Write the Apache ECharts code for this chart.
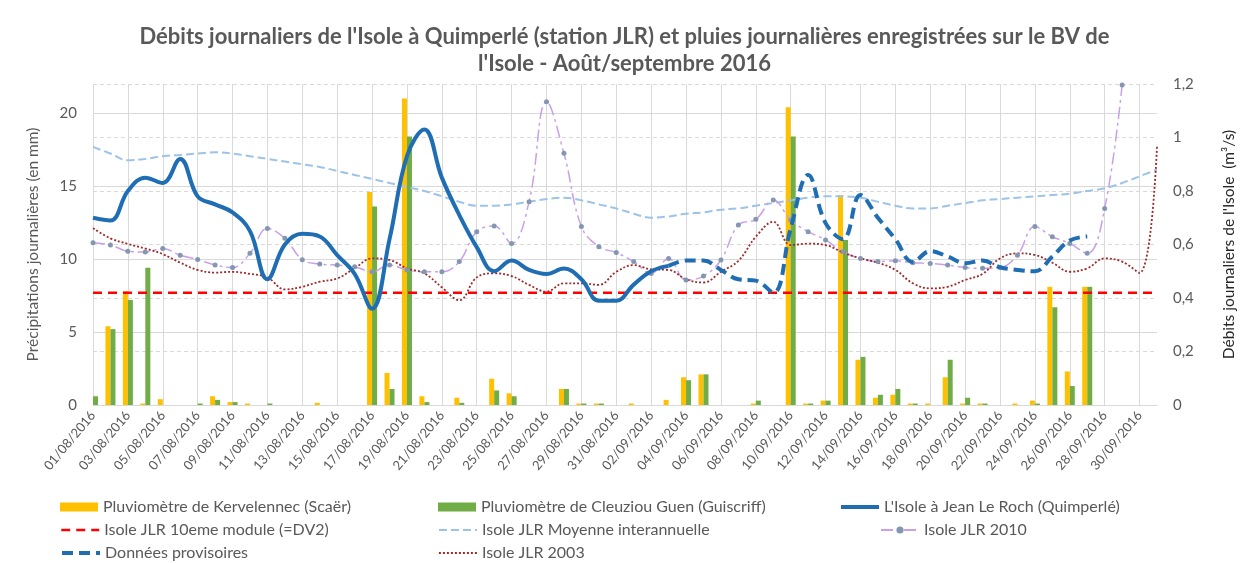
<!DOCTYPE html>
<html>
<head>
<meta charset="utf-8">
<script src="https://cdn.jsdelivr.net/npm/echarts@6/dist/echarts.min.js"></script>
<style>
html,body{margin:0;padding:0;background:#fff;}
#chart{width:1249px;height:563px;}
</style>
</head>
<body>
<div id="chart"></div>
<script>
var categories = ["01/08/2016","02/08/2016","03/08/2016","04/08/2016","05/08/2016","06/08/2016","07/08/2016","08/08/2016","09/08/2016","10/08/2016",
"11/08/2016","12/08/2016","13/08/2016","14/08/2016","15/08/2016","16/08/2016","17/08/2016","18/08/2016","19/08/2016","20/08/2016",
"21/08/2016","22/08/2016","23/08/2016","24/08/2016","25/08/2016","26/08/2016","27/08/2016","28/08/2016","29/08/2016","30/08/2016",
"31/08/2016","01/09/2016","02/09/2016","03/09/2016","04/09/2016","05/09/2016","06/09/2016","07/09/2016","08/09/2016","09/09/2016",
"10/09/2016","11/09/2016","12/09/2016","13/09/2016","14/09/2016","15/09/2016","16/09/2016","17/09/2016","18/09/2016","19/09/2016",
"20/09/2016","21/09/2016","22/09/2016","23/09/2016","24/09/2016","25/09/2016","26/09/2016","27/09/2016","28/09/2016","29/09/2016",
"30/09/2016","01/10/2016"];

var pluvioKervelennec = [0,5.4,7.8,0.1,0.4,0,0,0.6,0.2,0.1,
0,0,0,0.15,0,0,14.6,2.2,21.0,0.6,
0,0.5,0,1.8,0.8,0,0,1.1,0.1,0.1,
0,0.1,0,0.35,1.9,2.1,0,0,0.1,0,
20.4,0.1,0.3,14.4,3.1,0.5,0.7,0.1,0.1,1.9,
0.1,0.1,0,0.1,0.3,8.1,2.3,8.1,0,0,
0,0];

var pluvioCleuziou = [0.6,5.2,7.2,9.4,0,0,0.1,0.35,0.2,0,
0.1,0,0,0,0,0,13.6,1.1,18.4,0.2,
0,0.15,0,1.0,0.6,0,0,1.1,0.1,0.1,
0,0,0,0,1.7,2.1,0,0,0.3,0,
18.4,0.1,0.3,11.3,3.3,0.7,1.1,0.1,0,3.1,
0.5,0.1,0,0,0.1,6.7,1.3,8.1,0,0,
0,0];

var debitIsole = [0.70,0.69,0.80,0.85,0.83,0.92,0.78,0.75,0.72,0.65,
0.47,0.60,0.64,0.63,0.56,0.49,0.36,0.62,0.93,1.03,
0.85,0.71,0.59,0.50,0.54,0.505,0.49,0.51,0.47,0.39,
0.39,0.45,0.50,0.52,null,null,null,null,null,null,
null,null,null,null,null,null,null,null,null,null,
null,null,null,null,null,null,null,null,null,null,
null,null];

var donneesProvisoires = [null,null,null,null,null,null,null,null,null,null,
null,null,null,null,null,null,null,null,null,null,
null,null,null,null,null,null,null,null,null,null,
null,null,null,0.52,0.54,0.54,0.505,0.47,0.465,0.42,
0.66,0.86,0.68,0.62,0.785,0.70,0.62,0.535,0.575,0.555,
0.53,0.54,0.515,0.505,0.50,0.555,0.615,0.63,null,null,
null,null];

var module10 = [0.42,0.42,0.42,0.42,0.42,0.42,0.42,0.42,0.42,0.42,
0.42,0.42,0.42,0.42,0.42,0.42,0.42,0.42,0.42,0.42,
0.42,0.42,0.42,0.42,0.42,0.42,0.42,0.42,0.42,0.42,
0.42,0.42,0.42,0.42,0.42,0.42,0.42,0.42,0.42,0.42,
0.42,0.42,0.42,0.42,0.42,0.42,0.42,0.42,0.42,0.42,
0.42,0.42,0.42,0.42,0.42,0.42,0.42,0.42,0.42,0.42,
0.42,0.42];

var moyenneInterannuelle = [0.965,0.94,0.915,0.92,0.93,0.935,0.94,0.945,0.94,0.93,
0.92,0.91,0.90,0.89,0.875,0.86,0.845,0.83,0.815,0.80,
0.78,0.76,0.745,0.745,0.75,0.76,0.77,0.775,0.765,0.75,
0.735,0.715,0.70,0.705,0.715,0.72,0.73,0.735,0.745,0.755,
0.765,0.775,0.78,0.78,0.775,0.76,0.745,0.735,0.735,0.745,
0.755,0.765,0.77,0.775,0.78,0.785,0.79,0.80,0.81,0.83,
0.855,0.88];

var isole2010 = [0.607,0.598,0.575,0.572,0.585,0.56,0.544,0.523,0.514,0.567,
0.66,0.623,0.543,0.527,0.523,0.517,0.498,0.523,0.505,0.498,
0.498,0.536,0.648,0.669,0.604,0.76,1.134,0.941,0.667,0.592,
0.57,0.536,0.492,0.548,0.467,0.482,0.542,0.673,0.694,0.766,
0.692,0.648,0.617,0.573,0.548,0.536,0.539,0.532,0.529,0.523,
0.514,0.511,0.514,0.56,0.667,0.629,0.604,0.567,0.735,1.196,
null,null];

var isole2003 = [0.661,0.623,0.602,0.585,0.564,0.532,0.505,0.495,0.498,0.49,
0.477,0.432,0.442,0.461,0.473,0.511,0.548,0.542,0.511,0.492,
0.44,0.392,0.477,0.492,0.482,0.449,0.424,0.455,0.455,0.449,
0.498,0.523,0.507,0.505,0.47,0.458,0.498,0.539,0.629,0.685,
0.598,0.603,0.598,0.57,0.548,0.532,0.505,0.455,0.436,0.442,
0.467,0.49,0.548,0.567,0.561,0.532,0.498,0.511,0.548,0.536,
0.494,0.966];

var leftTicks = {min:0, max:22, interval:5};
var rightTicks = {min:0, max:1.2, interval:0.2};

var FONT = 'Lato, "Liberation Sans", sans-serif';
var GREY = '#595959';

var chart = echarts.init(document.getElementById('chart'), null, {renderer:'canvas'});

function legendAt(name, left, centerY, icon, hideSymbol, lineWidth) {
  var item = {name: name};
  if (icon) item.icon = icon;
  if (hideSymbol) item.itemStyle = {opacity: 0};
  if (lineWidth) item.lineStyle = {width: lineWidth};
  return {
    left: left, top: centerY - 9, padding: 0, orient: 'horizontal',
    itemWidth: 38, itemHeight: 9, itemGap: 5, selectedMode: false,
    textStyle: {color: GREY, fontSize: 16, fontFamily: FONT, lineHeight: 18},
    data: [item]
  };
}

var option = {
  backgroundColor: '#ffffff',
  animation: false,
  title: [
    {text: "Débits journaliers de l'Isole à Quimperlé (station JLR) et pluies journalières enregistrées sur le BV de",
     left: 'center', top: 21,
     textStyle: {fontFamily: FONT, fontWeight: 'bold', fontSize: 22, color: GREY}},
    {text: "l'Isole - Août/septembre 2016",
     left: 'center', top: 48,
     textStyle: {fontFamily: FONT, fontWeight: 'bold', fontSize: 22, color: GREY}}
  ],
  legend: [
    legendAt('Pluviomètre de Kervelennec (Scaër)', 60, 507, 'rect', false),
    legendAt('Pluviomètre de Cleuziou Guen (Guiscriff)', 438, 507, 'rect', false),
    legendAt("L'Isole à Jean Le Roch (Quimperlé)", 839, 507, null, true, 4),
    legendAt('Isole JLR 10eme module (=DV2)', 60, 530, null, true, 2.5),
    legendAt('Isole JLR Moyenne interannuelle', 438, 530, null, true, 2),
    legendAt('Isole JLR 2010', 880, 530, null, false),
    legendAt('Données provisoires', 60, 553, null, true, 4),
    legendAt('Isole JLR 2003', 438, 553, null, true, 1.8)
  ],
  grid: {left: 93, right: 92, top: 84, bottom: 158, containLabel: false},
  xAxis: {
    type: 'category',
    data: categories,
    boundaryGap: false,
    axisLine: {show: true, lineStyle: {color: '#d9d9d9'}},
    axisTick: {show: false},
    axisLabel: {interval: 1, rotate: 50, color: GREY, fontSize: 13, fontFamily: FONT, margin: 8},
    splitLine: {show: true, interval: 1, lineStyle: {color: '#d9d9d9', width: 1}}
  },
  yAxis: [
    {
      type: 'value', position: 'left',
      min: leftTicks.min, max: leftTicks.max, interval: leftTicks.interval,
      name: 'Précipitations journalières (en mm)',
      nameLocation: 'middle', nameGap: 52, nameRotate: 90,
      nameTextStyle: {color: GREY, fontSize: 15.5, fontFamily: FONT},
      axisLine: {show: false}, axisTick: {show: false},
      axisLabel: {color: GREY, fontSize: 15, fontFamily: FONT, margin: 16,
        formatter: function(v){ return v > 20 ? '' : String(v); }},
      splitLine: {show: true, showMaxLine: false,
        lineStyle: {color: ['#d9d9d9','#d9d9d9','#d9d9d9','#d9d9d9','#d9d9d9','rgba(0,0,0,0)'], width: 1}}
    },
    {
      type: 'value', position: 'right',
      min: rightTicks.min, max: rightTicks.max, interval: rightTicks.interval,
      name: "Débits journaliers de l'Isole  (m³/s)",
      nameLocation: 'middle', nameGap: 64, nameRotate: 90,
      nameTextStyle: {color: '#262626', fontSize: 15.5, fontFamily: FONT},
      axisLine: {show: false}, axisTick: {show: false},
      axisLabel: {color: GREY, fontSize: 15, fontFamily: FONT, margin: 16,
        formatter: function(v){ return String(Math.round(v*10)/10).replace('.', ','); }},
      splitLine: {show: true, lineStyle: {color: '#d9d9d9', width: 1, type: [4,3]}}
    }
  ],
  series: [
    {name: 'Pluviomètre de Kervelennec (Scaër)', type: 'bar', yAxisIndex: 0, data: pluvioKervelennec,
     barWidth: 5, barGap: '0%', itemStyle: {color: '#FFC000'}, z: 2},
    {name: 'Pluviomètre de Cleuziou Guen (Guiscriff)', type: 'bar', yAxisIndex: 0, data: pluvioCleuziou,
     barWidth: 5, barGap: '0%', itemStyle: {color: '#70AD47'}, z: 2},
    {name: 'Isole JLR Moyenne interannuelle', type: 'line', yAxisIndex: 1, data: moyenneInterannuelle,
     smooth: 0.4, symbol: 'none', lineStyle: {color: '#9DC3E6', width: 2, type: [8,4]}, itemStyle: {color: '#9DC3E6'}, z: 3},
    {name: 'Isole JLR 2010', type: 'line', yAxisIndex: 1, data: isole2010,
     smooth: 0.4, symbol: 'circle', symbolSize: 5, showSymbol: true,
     lineStyle: {color: '#C9A0E8', width: 1.5, type: [12,4,3,4]}, itemStyle: {color: '#8497B0'}, z: 4},
    {name: 'Isole JLR 2003', type: 'line', yAxisIndex: 1, data: isole2003,
     smooth: 0.4, symbol: 'none', lineStyle: {color: '#9C2A2A', width: 1.8, type: [2,2]}, itemStyle: {color: '#9C2A2A'}, z: 4},
    {name: 'Isole JLR 10eme module (=DV2)', type: 'line', yAxisIndex: 1, data: module10,
     symbol: 'none', lineStyle: {color: '#FF0000', width: 2.5, type: [9,6]}, itemStyle: {color: '#FF0000'}, z: 5},
    {name: "L'Isole à Jean Le Roch (Quimperlé)", type: 'line', yAxisIndex: 1, data: debitIsole,
     smooth: 0.4, symbol: 'none', lineStyle: {color: '#1F6DB3', width: 4}, itemStyle: {color: '#1F6DB3'}, z: 6},
    {name: 'Données provisoires', type: 'line', yAxisIndex: 1, data: donneesProvisoires,
     smooth: 0.4, symbol: 'none', lineStyle: {color: '#1F6DB3', width: 4, type: [11,6]}, itemStyle: {color: '#1F6DB3'}, z: 6}
  ]
};
chart.setOption(option);
</script>
</body>
</html>
